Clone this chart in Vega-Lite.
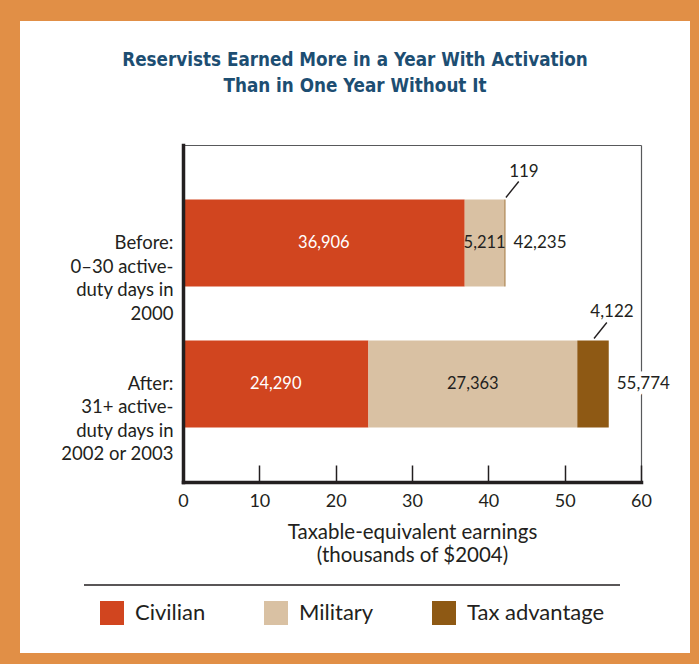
{
  "$schema": "https://vega.github.io/schema/vega-lite/v6.json",
  "width": 670,
  "height": 632,
  "autosize": {"type": "none"},
  "padding": {"left": 20, "top": 21, "right": 9, "bottom": 11},
  "background": "#e18f46",
  "title": {
    "text": ["Reservists Earned More in a Year With Activation", "Than in One Year Without It"],
    "font": "DejaVu Sans Condensed, Roboto, sans-serif",
    "fontSize": 18.7,
    "fontWeight": "bold",
    "color": "#1d4e72",
    "lineHeight": 26,
    "anchor": "middle",
    "frame": "group",
    "offset": -75
  },
  "config": {
    "view": {"fill": "white", "stroke": null},
    "font": "Lato",
    "axis": {"labelFont": "Lato", "titleFont": "Lato", "labelColor": "#231f20", "titleColor": "#231f20", "grid": false}
  },
  "datasets": {
    "segments": [
      {"group": "Before:\n0–30 active-\nduty days in\n2000", "component": "Civilian", "earnings": 36906},
      {"group": "Before:\n0–30 active-\nduty days in\n2000", "component": "Military", "earnings": 5211},
      {"group": "Before:\n0–30 active-\nduty days in\n2000", "component": "Tax advantage", "earnings": 119},
      {"group": "After:\n31+ active-\nduty days in\n2002 or 2003", "component": "Civilian", "earnings": 24290},
      {"group": "After:\n31+ active-\nduty days in\n2002 or 2003", "component": "Military", "earnings": 27363},
      {"group": "After:\n31+ active-\nduty days in\n2002 or 2003", "component": "Tax advantage", "earnings": 4122}
    ],
    "totals": [
      {"group": "Before:\n0–30 active-\nduty days in\n2000", "total": 42235},
      {"group": "After:\n31+ active-\nduty days in\n2002 or 2003", "total": 55774}
    ]
  },
  "layer": [
    {
      "data": {"name": "segments"},
      "mark": {"type": "bar"},
      "encoding": {
        "y": {
          "field": "group", "type": "nominal",
          "scale": {
            "domain": ["Before:\n0–30 active-\nduty days in\n2000", "After:\n31+ active-\nduty days in\n2002 or 2003"],
            "range": [124, 461], "paddingInner": 0.383, "paddingOuter": 0.387
          },
          "axis": {
            "orient": "left", "offset": -163, "title": null, "ticks": false,
            "domainColor": "#231f20", "domainWidth": 3.5, "domainCap": "square",
            "labelExpr": "split(datum.label, '\\n')",
            "labelFontSize": 18.5, "labelLineHeight": 23.5, "labelPadding": 10,
            "labelAlign": "right", "labelLimit": 0, "zindex": 1
          }
        },
        "x": {
          "field": "earnings", "type": "quantitative", "stack": "zero",
          "scale": {"domain": [0, 60000], "range": [163, 621], "nice": false},
          "axis": {
            "orient": "bottom", "offset": -171,
            "values": [0, 10000, 20000, 30000, 40000, 50000, 60000],
            "labelExpr": "format(datum.value / 1000, 'd')",
            "domainColor": "#231f20", "domainWidth": 3.5, "domainCap": "square",
            "tickColor": "#231f20", "tickWidth": 1.5, "tickSize": -17,
            "labelFontSize": 18, "labelPadding": 27, "labelFlush": false, "labelOverlap": false,
            "title": ["Taxable-equivalent earnings", "(thousands of $2004)"],
            "titleFontSize": 20.5, "titleFontWeight": "normal", "titlePadding": 12, "titleLineHeight": 23,
            "zindex": 1
          }
        },
        "color": {
          "field": "component", "type": "nominal",
          "scale": {"domain": ["Civilian", "Military", "Tax advantage"], "range": ["#d1451f", "#d9c1a3", "#8e5914"]},
          "legend": {
            "orient": "none", "legendX": 64, "legendY": 564, "direction": "horizontal",
            "title": null, "symbolType": "square", "symbolSize": 576, "symbolStrokeWidth": 0,
            "labelFont": "Lato", "labelFontSize": 22, "labelColor": "#231f20", "labelOffset": 11,
            "columnPadding": 58, "padding": 16, "strokeColor": "#231f20",
            "encode": {"legend": {"update": {"strokeWidth": {"value": 1.5}, "strokeDash": {"value": [536, 3000]}}}}
          }
        }
      }
    },
    {
      "data": {"name": "segments"},
      "mark": {"type": "text", "fontSize": 16.5, "font": "Lato", "baseline": "middle"},
      "encoding": {
        "y": {"field": "group", "type": "nominal", "axis": null},
        "x": {"field": "earnings", "type": "quantitative", "stack": "zero", "bandPosition": 0.5, "axis": null},
        "detail": {"field": "component"},
        "order": {"field": "component"},
        "text": {"field": "earnings", "format": ",", "condition": {"test": "datum.component === 'Tax advantage'", "value": ""}},
        "color": {"condition": {"test": "datum.component === 'Civilian'", "value": "white"}, "value": "#231f20"}
      }
    },
    {
      "data": {"name": "segments"},
      "mark": {"type": "point", "shape": "M0,0L0.8,-1", "size": 1024, "filled": false, "color": "#231f20", "strokeWidth": 1.4, "yOffset": -45.5, "xOffset": 1},
      "encoding": {
        "y": {"field": "group", "type": "nominal", "axis": null},
        "x": {"field": "earnings", "type": "quantitative", "stack": "zero", "bandPosition": 0.5, "axis": null},
        "detail": {"field": "component"},
        "order": {"field": "component"},
        "opacity": {"condition": {"test": "datum.component === 'Tax advantage'", "value": 1}, "value": 0}
      }
    },
    {
      "data": {"name": "segments"},
      "mark": {"type": "text", "fontSize": 17, "font": "Lato", "baseline": "middle", "dx": 19, "dy": -71.5, "color": "#231f20"},
      "encoding": {
        "y": {"field": "group", "type": "nominal", "axis": null},
        "x": {"field": "earnings", "type": "quantitative", "stack": "zero", "bandPosition": 0.5, "axis": null},
        "detail": {"field": "component"},
        "order": {"field": "component"},
        "text": {"field": "earnings", "format": ",", "condition": {"test": "datum.component !== 'Tax advantage'", "value": ""}}
      }
    },
    {
      "data": {"name": "totals"},
      "mark": {"type": "text", "fontSize": 17, "font": "Lato", "align": "left", "baseline": "middle", "dx": 8, "fill": "white", "stroke": "white", "strokeWidth": 9},
      "encoding": {
        "y": {"field": "group", "type": "nominal", "axis": null},
        "x": {"field": "total", "type": "quantitative", "axis": null},
        "text": {"field": "total", "format": ","}
      }
    },
    {
      "data": {"name": "totals"},
      "mark": {"type": "text", "fontSize": 17, "font": "Lato", "align": "left", "baseline": "middle", "dx": 8, "color": "#231f20"},
      "encoding": {
        "y": {
          "field": "group", "type": "nominal",
          "axis": {"orient": "right", "offset": -49, "title": null, "ticks": false, "labels": false, "domainColor": "#58595b", "domainWidth": 1.2, "zindex": 0}
        },
        "x": {
          "field": "total", "type": "quantitative",
          "axis": {"orient": "top", "offset": -124, "title": null, "ticks": false, "labels": false, "domainColor": "#58595b", "domainWidth": 1.2, "zindex": 0}
        },
        "text": {"field": "total", "format": ","}
      }
    }
  ],
  "resolve": {"axis": {"x": "independent", "y": "independent"}}
}
